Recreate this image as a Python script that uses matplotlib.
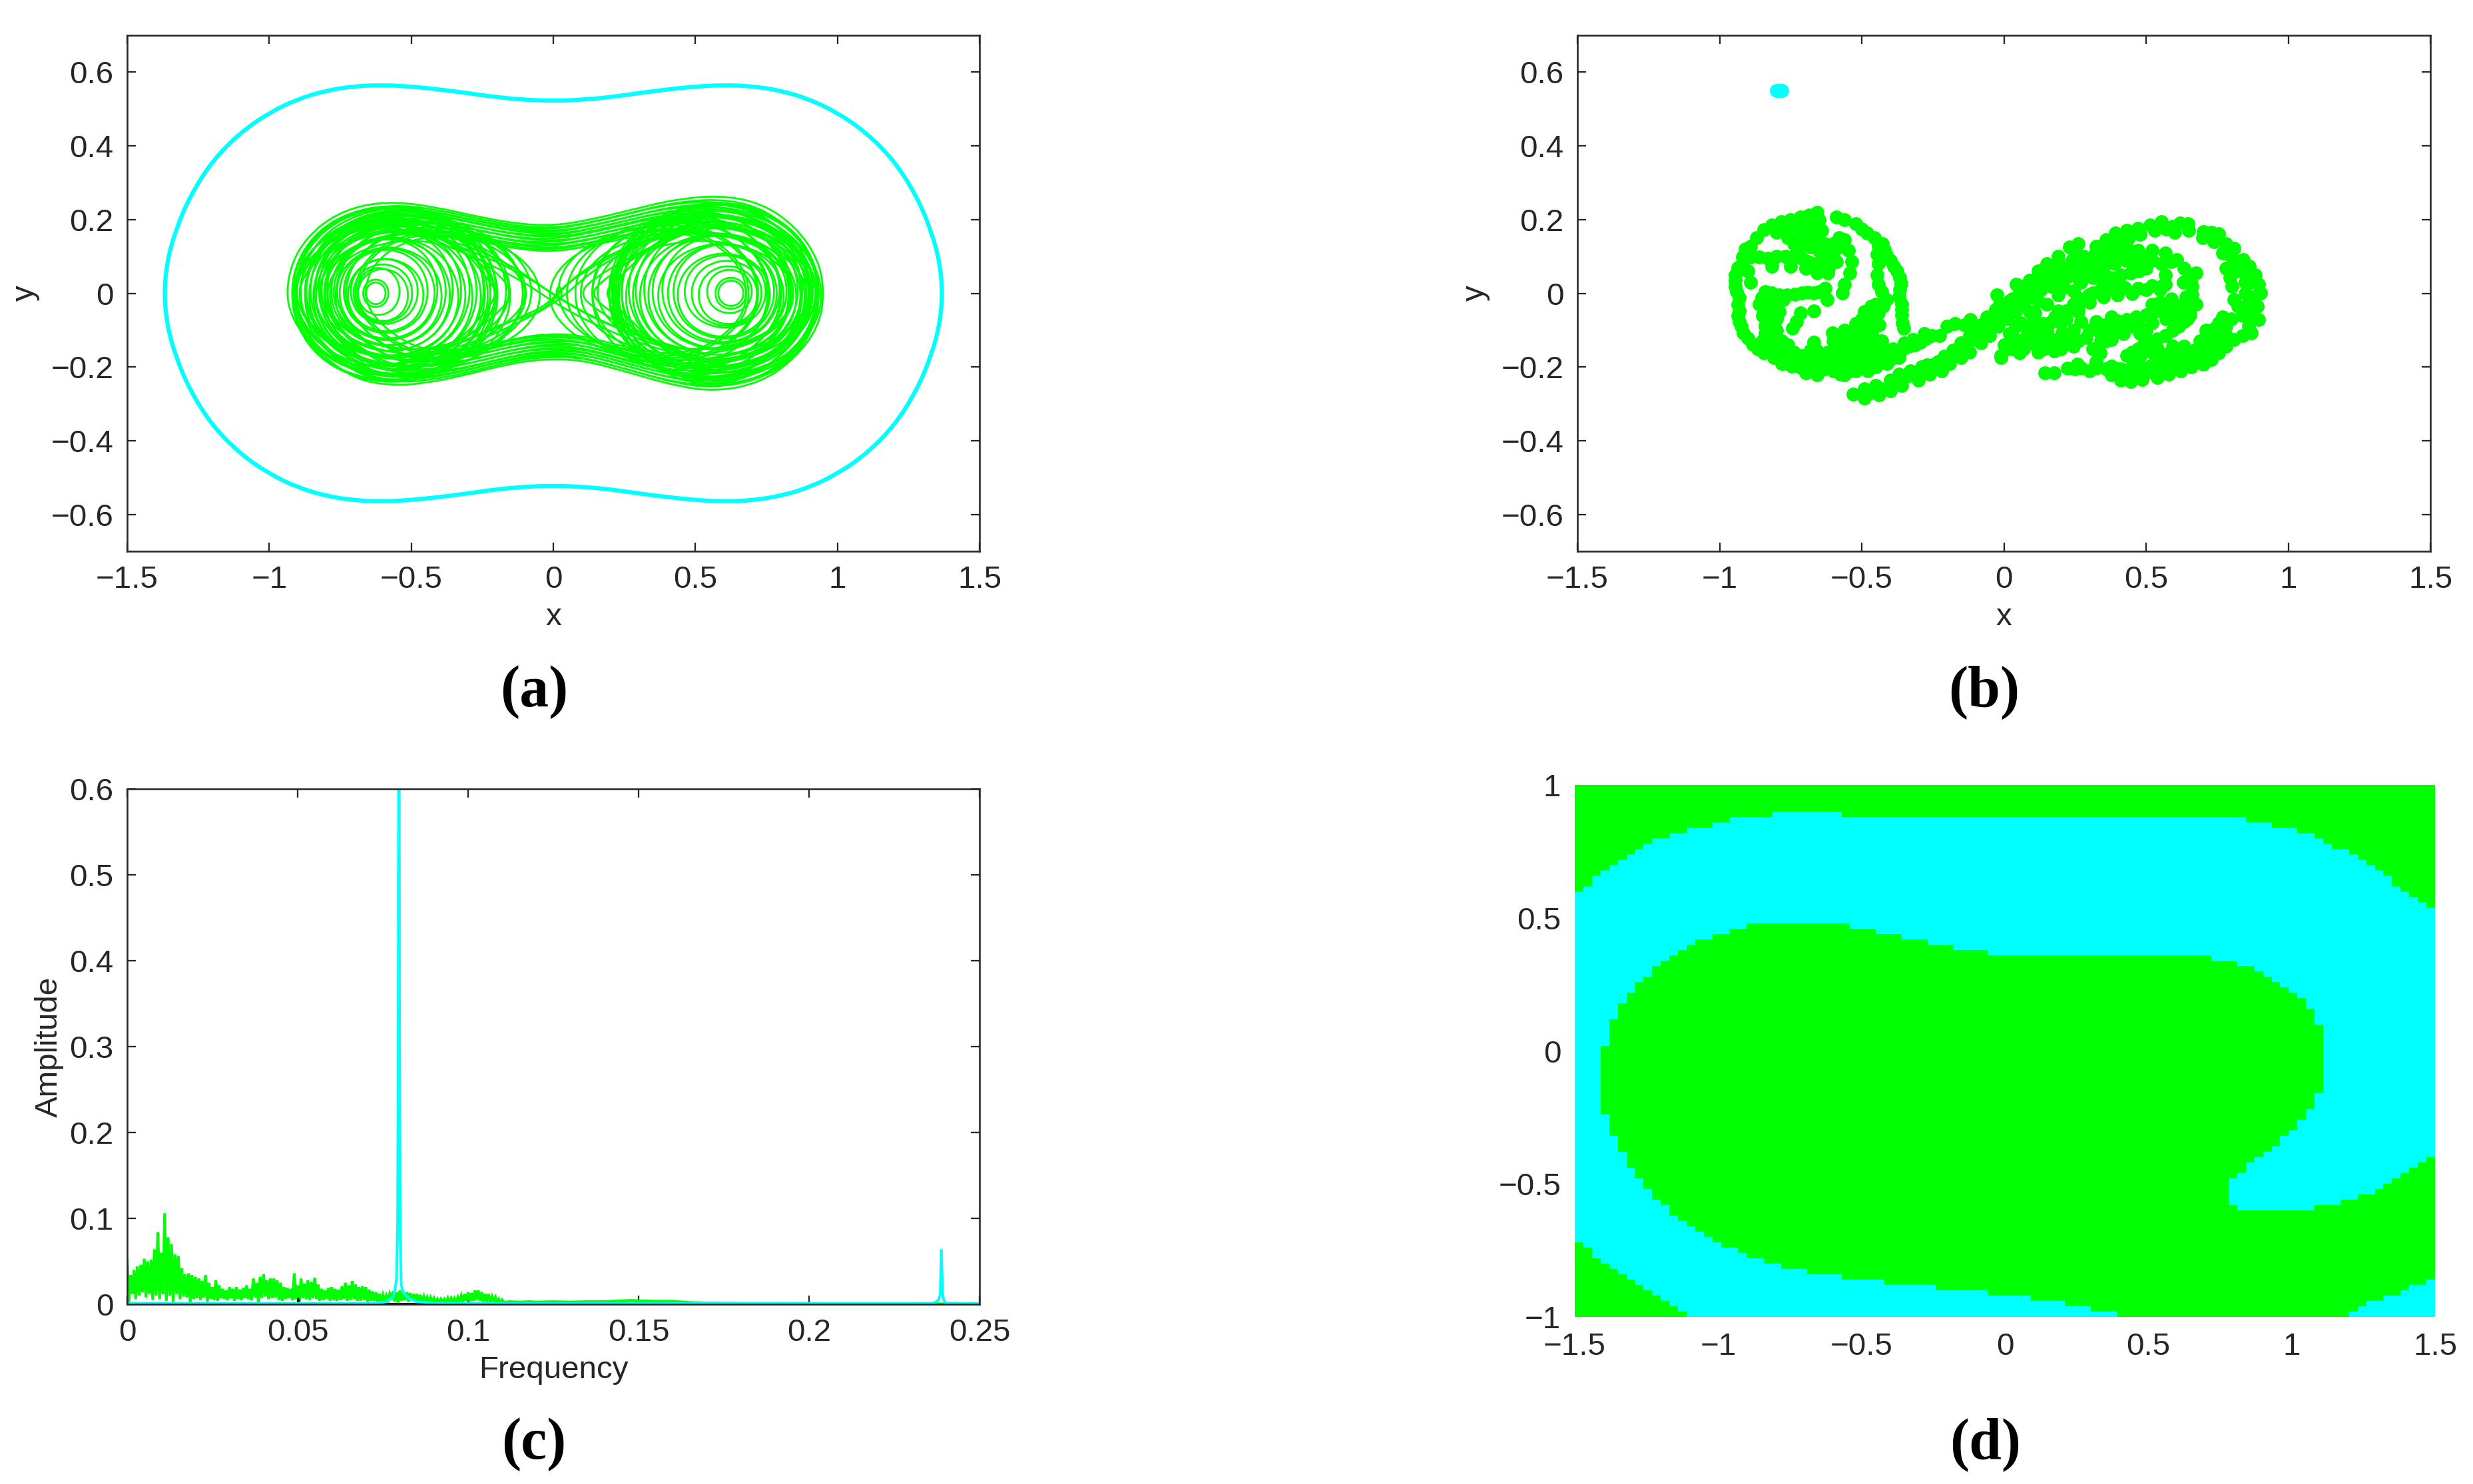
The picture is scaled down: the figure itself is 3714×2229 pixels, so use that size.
import matplotlib
matplotlib.use("Agg")
import matplotlib.pyplot as plt
import numpy as np
from matplotlib.path import Path
from matplotlib.patches import PathPatch
from matplotlib.colors import ListedColormap

plt.rcParams['font.family'] = ['Liberation Sans', 'DejaVu Sans']
W, H = 3714, 2229
GREEN, CYAN, INK = '#00FF00', '#00FFFF', '#262626'

# ---------- panel (a): periodic orbit, upper right quadrant (mirrored on both axes)
cycle_x = [0, .1, .2, .3, .4, .5, .6, .7, .8, .9, 1.0, 1.1, 1.2, 1.28, 1.33, 1.36, 1.37]
cycle_y = [.522, .525, .532, .543, .553, .561, .565, .562, .55, .527, .49, .437, .36, .262, .17, .085, 0]

# ---------- panel (a): chaotic orbit, read as an outer contour with nested copies
orbit_x = [-.941, -.92, -.867, -.786, -.679, -.558, -.423, -.249, -.114, .007, .128, .289, .423, .585, .733, .853,
           .934, .954, .934, .853, .733, .571, .423, .249, .101, -.034, -.168, -.329, -.464, -.558, -.679, -.786, -.867, -.92]
orbit_y = [0, .085, .151, .205, .239, .248, .235, .205, .187, .184, .199, .229, .254, .266, .245, .181,
           .091, 0, -.091, -.175, -.242, -.267, -.25, -.211, -.181, -.178, -.193, -.226, -.245, -.25, -.238, -.187, -.127, -.066]
nest_sx = [1.0, .975, .96, .945, .925, .91, .885, .87, .85, .83, .81, .79, .77, .75, .73, .71]
nest_sy = [1.0, .965, .945, .92, .90, .875, .85, .83, .80, .775, .75, .725, .70, .67, .645, .62]
nest_dx = [0, .005, -.01, .01, -.005, .012, -.012, .008, -.008, .015, -.015, .01, -.01, .005, -.006, .004]

loop_x = [1, .93, .72, .39, 0, -.39, -.72, -.93, -1, -.93, -.72, -.39, 0, .39, .72, .93]
loop_y = [0, .38, .71, .92, 1, .92, .71, .38, 0, -.38, -.71, -.92, -1, -.92, -.71, -.38]
left_rings = [(-.625, 0, .035, .03), (-.625, 0, .045, .038), (-.615, .005, .075, .065), (-.60, -.005, .09, .072), (-.60, 0, .105, .08),
              (-.595, .005, .12, .09), (-.59, -.005, .135, .10), (-.59, .005, .15, .115), (-.585, 0, .17, .125), (-.585, .01, .18, .14),
              (-.58, -.008, .19, .135), (-.58, .005, .205, .15), (-.575, -.005, .215, .155), (-.575, .01, .225, .17), (-.57, -.01, .24, .165),
              (-.57, .008, .25, .18), (-.565, -.005, .26, .175), (-.56, .01, .27, .19), (-.56, -.01, .28, .185), (-.555, .005, .29, .20),
              (-.55, -.008, .30, .195), (-.55, .008, .31, .21), (-.545, -.005, .32, .205), (-.545, .008, .33, .22), (-.54, -.008, .34, .215),
              (-.545, .005, .35, .23), (-.55, -.005, .36, .225), (-.56, .005, .365, .235), (-.57, -.005, .355, .24), (-.58, 0, .345, .24),
              (-.50, 0, .40, .20), (-.49, .005, .42, .19), (-.47, -.005, .43, .18), (-.46, 0, .37, .17), (-.48, .005, .33, .16),
              (-.50, -.005, .30, .15), (-.52, .005, .36, .21), (-.53, -.005, .385, .225), (-.51, 0, .41, .215)]
right_rings = [(.625, 0, .045, .035), (.625, 0, .055, .043), (.62, .005, .08, .06), (.615, -.005, .105, .08), (.61, 0, .125, .09),
               (.605, .005, .145, .10), (.60, -.005, .165, .115), (.60, .005, .18, .13), (.595, 0, .195, .135), (.59, .01, .21, .15),
               (.59, -.008, .225, .145), (.585, .005, .24, .16), (.585, -.005, .255, .165), (.58, .01, .265, .18), (.58, -.01, .28, .175),
               (.575, .008, .29, .19), (.575, -.005, .30, .185), (.57, .01, .31, .20), (.57, -.01, .32, .195), (.565, .005, .33, .21),
               (.565, -.008, .34, .205), (.56, .008, .345, .22), (.56, -.005, .355, .215), (.56, .008, .36, .23), (.56, -.008, .37, .225),
               (.565, .005, .375, .24), (.57, -.005, .37, .235), (.575, .005, .365, .245), (.58, -.005, .36, .25), (.585, 0, .35, .25),
               (.48, 0, .44, .20), (.46, .005, .45, .19), (.44, -.005, .46, .18), (.47, 0, .38, .17), (.50, .005, .35, .16),
               (.52, -.005, .33, .15), (.53, .005, .40, .21), (.54, -.005, .41, .225), (.50, 0, .43, .215)]

strokes = [
    ([-.55, -.3, -.1, .03, .2, .4, .55], [.19, .12, .05, -.02, -.09, -.14, -.17]),
    ([-.5, -.28, -.1, .02, .2, .38, .56], [.17, .1, .03, -.035, -.105, -.155, -.19]),
    ([-.62, -.38, -.16, .02, .18, .34, .5], [.2, .15, .085, -.015, -.08, -.125, -.16]),
    ([-.45, -.25, -.1, -.02, .05, .2, .35, .5], [-.17, -.11, -.06, -.03, .03, .1, .15, .18]),
    ([-.4, -.2, -.03, .06, .22, .38, .52], [-.16, -.085, -.05, .04, .115, .16, .2]),
    ([-.52, -.3, -.12, .02, .15, .3, .46], [-.19, -.14, -.08, -.02, .07, .13, .17]),
    ([-.55, -.35, -.2, -.14, -.2, -.35, -.55], [.2, .14, .06, 0, -.06, -.14, -.19]),
    ([-.55, -.3, -.14, -.085, -.14, -.3, -.55], [.21, .15, .07, 0, -.07, -.15, -.21]),
    ([-.55, -.33, -.24, -.195, -.24, -.33, -.55], [.2, .13, .05, 0, -.05, -.13, -.2]),
    ([.55, .35, .18, .08, .18, .35, .55], [.2, .13, .06, 0, -.06, -.13, -.2]),
    ([.55, .33, .2, .125, .2, .33, .55], [.19, .12, .05, 0, -.05, -.12, -.19]),
    ([.55, .36, .25, .17, .25, .36, .55], [.21, .14, .055, 0, -.055, -.14, -.21]),
]
tiny_cx, tiny_a, tiny_b = .02, .009, .017

# ---------- panel (b): Poincare section, read strand by strand
b_cyan = [(-.80, .55), (-.79, .55), (-.78, .55)]
b_left_outer = [(-.656, -.222), (-.68, -.21), (-.71, -.204), (-.745, -.198), (-.777, -.19), (-.81, -.175), (-.844, -.162), (-.865, -.15), (-.884, -.138), (-.90, -.122), (-.918, -.107), (-.925, -.09), (-.931, -.077), (-.935, -.06), (-.931, -.047), (-.935, -.03), (-.931, -.011), (-.94, .005), (-.945, .019), (-.945, .035), (-.945, .05), (-.935, .07), (-.918, .092), (-.91, .11), (-.891, .128), (-.87, .15), (-.844, .173), (-.815, .185), (-.784, .194), (-.75, .2), (-.716, .207), (-.685, .212), (-.656, .219)]
b_left_arc = [(-.589, .207), (-.56, .2), (-.522, .188), (-.5, .175), (-.481, .164), (-.455, .15), (-.427, .134), (-.42, .118), (-.414, .104), (-.40, .09), (-.387, .074), (-.375, .06), (-.367, .043), (-.362, .027), (-.367, .01), (-.37, -.01), (-.36, -.029), (-.36, -.045), (-.36, -.059), (-.358, -.08), (-.353, -.095)]
b_left_inner = [(-.441, .128), (-.445, .105), (-.441, .08), (-.445, .05), (-.441, .025), (-.43, .005), (-.414, -.017), (-.425, -.035), (-.441, -.053), (-.455, -.068), (-.468, -.083), (-.48, -.098), (-.495, -.114), (-.50, -.135), (-.51, -.15), (-.522, -.162), (-.53, -.185), (-.562, -.21), (-.575, -.22)]
b_left_spiral = [(-.72, .2), (-.715, .17), (-.76, .175), (-.76, .15), (-.74, .135), (-.71, .13), (-.68, .125), (-.65, .115), (-.63, .11), (-.60, .11), (-.58, .125), (-.58, .15), (-.92, .098), (-.89, .098), (-.86, .098), (-.83, .095), (-.80, .1), (-.77, .1), (-.74, .1), (-.71, .095), (-.69, .085), (-.817, .074), (-.75, .074), (-.696, .068), (-.656, .056), (-.616, .068), (-.589, .086), (-.609, .104), (-.562, .146), (-.548, .116), (-.535, .086), (-.542, .056), (-.562, .025), (-.569, .001)]
b_left_band = [(-.851, -.011), (-.817, .001), (-.763, -.005), (-.71, .001), (-.669, .001), (-.629, .013), (-.622, -.017), (-.669, -.047), (-.84, .005), (-.79, -.005), (-.735, -.002), (-.69, .003), (-.65, .005), (-.844, -.029), (-.831, -.053), (-.824, -.083), (-.81, -.114), (-.797, -.138), (-.763, -.156), (-.71, -.168), (-.656, -.174), (-.589, -.18), (-.522, -.183), (-.454, -.186), (-.804, -.029), (-.777, -.017), (-.716, -.053), (-.73, -.077), (-.743, -.095), (-.84, -.07), (-.80, -.07), (-.80, -.10), (-.84, -.11), (-.78, -.13), (-.74, -.16), (-.68, -.155), (-.62, -.16), (-.83, -.145), (-.79, -.17), (-.75, -.18), (-.69, -.19), (-.63, -.19), (-.56, -.17), (-.723, -.198), (-.669, -.132), (-.656, -.156)]
b_left_blob = [(-.602, -.107), (-.562, -.101), (-.522, -.083), (-.589, -.144), (-.582, -.168), (-.495, -.101), (-.481, -.126), (-.468, -.15), (-.468, -.035), (-.454, -.059), (-.53, -.11), (-.50, -.07), (-.545, -.14), (-.51, -.12), (-.50, -.165), (-.47, -.175), (-.44, -.16), (-.43, -.13), (-.46, -.095), (-.44, -.085), (-.414, -.168), (-.374, -.156), (-.333, -.144), (-.293, -.132), (-.253, -.114), (-.226, -.114), (-.40, -.18), (-.39, -.165), (-.355, -.15), (-.313, -.14), (-.273, -.122), (-.562, -.222), (-.522, -.21), (-.468, -.198), (-.696, -.216), (-.602, -.198), (-.54, -.195), (-.50, -.195), (-.44, -.19)]
b_left_fill = [(-.80, .165), (-.76, .19), (-.72, .185), (-.68, .19), (-.65, .2), (-.69, .16), (-.66, .165), (-.64, .17), (-.72, .15), (-.67, .14), (-.63, .135), (-.60, .135), (-.60, .09), (-.64, .09), (-.67, .08), (-.62, .055), (-.90, .06), (-.89, .03), (-.91, .12), (-.86, -.03), (-.85, -.06), (-.84, -.09), (-.82, -.03), (-.82, -.06), (-.79, -.05), (-.83, -.12), (-.80, -.13), (-.85, -.13), (-.76, -.14), (-.78, -.19), (-.75, -.195), (-.72, -.18), (-.69, -.175), (-.66, -.19), (-.63, -.205), (-.60, -.21), (-.57, -.19), (-.54, -.21), (-.51, -.205), (-.48, -.21), (-.45, -.2), (-.64, -.17), (-.60, -.165), (-.56, -.15), (-.53, -.13), (-.57, -.12), (-.60, -.13), (-.49, -.145), (-.46, -.12), (-.45, -.14), (-.52, -.10), (-.47, -.07), (-.49, -.05), (-.45, -.03), (-.43, -.18), (-.42, -.15), (-.39, -.15), (-.35, -.135), (-.32, -.125), (-.28, -.11), (-.37, -.175), (-.41, -.19)]
b_diag_1 = [(-.53, -.274), (-.49, -.26), (-.45, -.25), (-.40, -.235), (-.37, -.22), (-.33, -.21), (-.27, -.195), (-.21, -.17), (-.18, -.155), (-.15, -.135), (-.12, -.115), (-.09, -.095), (-.06, -.065), (-.03, -.045), (0.0, -.03), (.03, -.015), (.055, .005), (.075, .02), (.09, .035), (.12, .06), (.15, .08), (.19, .1), (.23, .125), (.26, .135)]
b_diag_2 = [(-.49, -.285), (-.44, -.275), (-.40, -.265), (-.36, -.25), (-.30, -.235), (-.26, -.22), (-.22, -.21), (-.19, -.19), (-.15, -.175), (-.12, -.16), (-.08, -.135), (-.05, -.115), (-.02, -.09), (.01, -.07), (.04, -.05), (.07, -.03), (.10, -.01), (.13, .01), (.16, .03), (.19, .045), (.23, .065), (.27, .075), (.31, .09), (.35, .1), (.39, .115), (.43, .125), (-.24, -.19), (-.17, -.16), (-.10, -.125), (-.07, -.105), (-.04, -.08), (-.01, -.06), (.02, -.04), (.05, -.02)]
b_diag_3 = [(-.011, -.174), (.01, -.15), (.043, -.126), (.09, -.105), (.137, -.083), (.18, -.065), (.218, -.047), (.26, -.025), (.298, -.005), (.34, .01), (.379, .013), (.425, .015), (.473, .013), (.52, .02), (.567, .025), (.258, -.011), (.312, .001), (.245, -.03), (.285, -.02), (.35, .025), (.40, .03), (.083, -.011), (.03, -.047), (.11, -.053), (.191, -.047), (-.024, -.005), (.043, .025), (.137, .062), (.191, .086), (.245, .116), (.15, -.03), (.12, -.02), (.06, -.08), (.10, -.08)]
b_diag_fill = [(-.47, -.27), (-.43, -.26), (-.38, -.245), (-.34, -.225), (-.31, -.215), (-.29, -.2), (-.25, -.195), (-.23, -.185), (-.20, -.175), (-.16, -.15), (-.13, -.135), (-.10, -.105), (-.08, -.085), (-.05, -.09), (-.03, -.07), (-.015, -.03), (.01, -.045), (.02, -.02), (.045, -.03), (.06, -.01), (.08, 0), (.09, -.05), (.10, .02), (.13, .035), (.16, .055), (.18, .02), (.2, .07), (.24, .09), (.28, .1), (.32, .105)]
b_mid_blob = [(.03, -.114), (.083, -.107), (.151, -.101), (.204, -.107), (.177, -.156), (.245, -.144), (.11, -.138), (.056, -.162), (-.011, -.168), (.312, -.15), (.339, -.162), (.245, -.101), (.271, -.077), (.325, -.077), (.379, -.065), (.433, -.071), (.5, -.059), (.554, -.047), (.608, -.035), (.379, -.101), (.379, -.126), (.419, -.089), (.06, -.135), (.03, -.15), (.09, -.125), (.13, -.12), (.17, -.125), (.21, -.13), (.14, -.15), (.355, -.085), (.40, -.075), (.345, -.11), (.36, -.13), (.465, -.065), (.53, -.05), (.58, -.04), (.55, -.025), (.59, -.015), (.52, -.03)]
b_right_inner = [(.473, .116), (.52, .116), (.567, .11), (.608, .092), (.634, .068), (.675, .056), (.661, .019), (.661, -.005), (.675, -.029), (.655, -.059), (.634, -.077), (.594, -.101), (.567, -.114), (.513, -.132), (.473, -.15), (.433, -.168), (.554, .08), (.567, .05), (.554, .019), (.59, .085), (.66, .04), (.645, -.07), (.615, -.09), (.54, -.123), (.49, -.14), (.45, -.16)]
b_right_arc = [(.325, .128), (.359, .146), (.392, .164), (.433, .17), (.473, .176), (.513, .185), (.554, .194), (.594, .182), (.648, .188), (.702, .167), (.755, .161), (.782, .134), (.809, .122), (.843, .092), (.863, .074), (.883, .05), (.896, .025), (.903, .001), (.89, -.035), (.896, -.071), (.87, -.107), (.809, -.126), (.782, -.144), (.755, -.162), (.702, -.192), (.621, -.21), (.54, -.228), (.487, -.234), (.446, -.24), (.379, -.222), (.325, -.204), (.272, -.204), (.224, -.204), (.177, -.216), (.144, -.216), (.62, .19), (.73, .165), (.84, -.115), (.73, -.18), (.66, -.2), (.58, -.22), (.41, -.235), (.30, -.21), (.25, -.205)]
b_right_arc_2 = [(.36, .12), (.40, .15), (.44, .15), (.48, .16), (.53, .17), (.57, .175), (.60, .165), (.65, .17), (.70, .15), (.74, .14), (.77, .11), (.80, .10), (.83, .07), (.85, .06), (.87, .03), (.88, -.01), (.87, -.04), (.86, -.09)]
b_right_second = [(.782, .068), (.796, .043), (.802, .019), (.809, -.017), (.823, -.035), (.769, -.065), (.742, -.095), (.728, -.12), (.702, -.15), (.634, -.144), (.594, -.144), (.54, -.15), (.487, -.156), (.755, -.08), (.72, -.14), (.76, -.11), (.74, -.15), (.67, -.155)]
b_low_band = [(.379, -.198), (.446, -.204), (.513, -.198), (.581, -.192), (.634, -.198), (.433, -.216), (.487, -.21), (.54, -.174), (.621, -.174), (.675, -.168), (.325, -.186), (.258, -.192), (.41, -.205), (.47, -.19), (.53, -.215), (.60, -.2), (.66, -.18), (.48, -.225), (.42, -.22), (.57, -.18)]
b_upper_mid = [(.245, .056), (.285, .074), (.325, .08), (.366, .092), (.406, .104), (.386, .116), (.44, .119), (.312, .043), (.379, .043), (.446, .056), (.5, .068), (.245, .007), (.191, -.005), (.164, .019), (.218, .043), (.27, .06), (.345, .05), (.41, .05), (.475, .06), (.27, .03), (.21, .015), (-.172, -.083), (-.118, -.071), (-.14, -.085), (-.20, -.09)]
b_right_fill = [(.26, .04), (.29, .05), (.31, .06), (.35, .07), (.39, .08), (.43, .09), (.46, .09), (.5, .095), (.52, .09), (.40, .135), (.35, .11), (.26, -.05), (.30, -.025), (.35, -.01), (.40, -.005), (.45, 0), (.50, .01), (.55, .01), (.16, -.08), (.20, -.08), (.22, -.07), (.12, -.10), (.08, -.09), (.04, -.09), (.0, -.14), (.02, -.11), (.07, -.15), (.12, -.16), (.16, -.14), (.20, -.15), (.23, -.12), (.26, -.13), (.29, -.12), (.30, -.10), (.33, -.10), (.34, -.13), (.39, -.09), (.42, -.11), (.45, -.09), (.47, -.08), (.50, -.10), (.52, -.08), (.48, -.11), (.57, -.07), (.60, -.06), (.62, -.05), (.63, -.03), (.64, -.01), (.63, .03), (.48, -.17), (.52, -.16), (.56, -.165), (.60, -.165), (.64, -.165), (.68, -.155), (.70, -.17), (.66, -.19), (.62, -.195), (.58, -.205), (.54, -.205), (.50, -.215), (.46, -.225), (.44, -.23), (.40, -.205), (.36, -.205), (.32, -.2), (.69, -.13), (.71, -.10), (.74, -.12), (.76, -.135), (.78, -.09), (.80, -.07), (.78, -.115), (.85, .03), (.85, .0), (.86, -.03), (.87, -.07), (.84, -.06), (.82, .06), (.82, .085)]
b_strands = [b_left_outer, b_left_arc, b_left_inner, b_left_spiral, b_left_band, b_left_blob, b_left_fill, b_diag_1, b_diag_2, b_diag_3, b_diag_fill, b_mid_blob, b_right_inner, b_right_arc, b_right_arc_2, b_right_second, b_low_band, b_upper_mid, b_right_fill]

# ---------- panel (c): spectrum
c_peaks = [.052, .034, .040, .044, .046, .053, .050, .052, .064, .084, .060, .106, .078, .070, .058, .056, .042, .035, .036, .034, .032, .030, .027, .034, .025, .020, .028, .022, .018, .016, .020, .018, .020, .017, .019, .022, .018, .030, .025, .032, .035, .028, .030, .030, .028, .025, .020, .019, .018, .036, .022, .030, .024, .028, .026, .031, .023, .018, .016, .019, .020, .018, .017, .021, .025, .022, .027, .023, .020, .021, .020, .017, .015, .014, .012, .011, .010, .012, .015, .014, .016, .013, .014, .013, .012, .012, .011, .009, .008, .008, .007, .006, .006, .006, .007, .007, .007, .008, .010, .012, .014, .013, .016, .016, .014, .012, .012, .009, .008, .006, .005]
c_troughs = [.002, .012, .006, .010, .014, .008, .012, .005, .010, .006, .012, .004, .010, .003, .012, .006, .009, .008, .002, .006, .007, .005, .008, .003, .006, .005, .004, .007, .006, .005, .007, .004, .006, .005, .007, .006, .005, .008, .002, .007, .009, .006, .007, .008, .005, .004, .006, .007, .005, .006, .002, .007, .006, .005, .007, .006, .004, .005, .006, .004, .005, .004, .005, .006, .004, .005, .006, .004, .004, .005, .003, .004, .004, .003, .004, .003, .004, .005, .003, .002, .004, .005, .003, .004, .003, .001, .003, .002, .003, .002, .002, .002, .003, .002, .002, .003, .002, .003, .003, .004, .003, .004, .005, .004, .003, .004, .003, .003, .002, .002, .002]
c_tail_f = [.112, .115, .118, .12, .125, .13, .135, .14, .145, .148, .15, .155, .16, .165, .17, .18, .19, .2, .21, .22, .23, .24, .25]
c_tail_a = [.003, .0025, .003, .0025, .003, .0025, .003, .003, .004, .0045, .004, .0035, .0035, .002, .0015, .001, .001, .0008, .0006, .0006, .0005, .0005, .0004]
c_black_f = [.05, .0502, .0504, .067, .09]
c_black_a = [.0005, .007, .0005, .0005, .0005]
c_cyan_f = [0, .02, .04, .06, .07, .074, .076, .077, .078, .0785, .079, .0793, .0795, .0797, .0799, .0801, .0804, .081, .082, .083, .0848, .09, .10, .15, .2, .23, .236, .237, .238, .2385, .2388, .2392, .2395, .24, .241, .245, .25]
c_cyan_a = [.001, .001, .001, .001, .001, .0015, .003, .005, .009, .016, .03, .08, .3, 1.0, .3, .08, .022, .014, .009, .006, .003, .0015, .001, .001, .001, .001, .0012, .002, .005, .012, .063, .012, .005, .002, .0012, .001, .001]

# ---------- panel (d): basins of attraction, boundary of the cyan region (runs on past the frame)
d_cyan_x = [-1.62, -1.5, -1.377, -1.275, -1.152, -1.008, -.865, -.68, -.557, -.27, .324, .754, .938, 1.102, 1.246, 1.369, 1.5, 1.62, 1.75, 1.62, 1.5, 1.369, 1.246, 1.102, .867, .805, .76, .795, .898, 1.0, 1.082, 1.123, 1.123, 1.082, 1.02, .918, .795, .549, .283, .078, -.066, -.25, -.455, -.619, -.824, -.967, -1.09, -1.193, -1.305, -1.377, -1.408, -1.418, -1.398, -1.346, -1.275, -1.152, -1.029, -.885, -.67, -.373, .016, .262, .436, .6, -.9, -1.07, -1.275, -1.398, -1.5, -1.62, -1.75]
d_cyan_y = [.46, .593, .694, .766, .816, .859, .888, .902, .888, .873, .873, .888, .852, .802, .715, .629, .521, .40, .0, -.28, -.385, -.485, -.55, -.593, -.607, -.586, -.536, -.471, -.392, -.306, -.205, -.075, .011, .14, .212, .291, .341, .37, .36, .346, .37, .406, .456, .485, .485, .456, .406, .342, .226, .097, -.018, -.104, -.234, -.377, -.492, -.629, -.708, -.78, -.838, -.878, -.917, -.96, -1.0, -1.06, -1.12, -1.0, -.895, -.794, -.715, -.6, 0]
d_corner_x = [1.06, 1.164, 1.266, 1.389, 1.5, 1.62, 1.62, 1.06]
d_corner_y = [-1.06, -1.0, -.952, -.902, -.859, -.81, -1.1, -1.1]
d_cells = 100

# ---------- tick labels
xy_ticks = [-1.5, -1, -.5, 0, .5, 1, 1.5]
xy_labels = ['\u22121.5', '\u22121', '\u22120.5', '0', '0.5', '1', '1.5']
y_ticks = [-.6, -.4, -.2, 0, .2, .4, .6]
y_labels = ['\u22120.6', '\u22120.4', '\u22120.2', '0', '0.2', '0.4', '0.6']
c_xticks = [0, .05, .1, .15, .2, .25]
c_xlabels = ['0', '0.05', '0.1', '0.15', '0.2', '0.25']
c_yticks = [0, .1, .2, .3, .4, .5, .6]
c_ylabels = ['0', '0.1', '0.2', '0.3', '0.4', '0.5', '0.6']
d_yticks = [-1, -.5, 0, .5, 1]
d_ylabels = ['\u22121', '\u22120.5', '0', '0.5', '1']
captions = ['(a)', '(b)', '(c)', '(d)']

FS = 11.4
fig = plt.figure(figsize=(W / 300, H / 300), dpi=300, facecolor='white')


def axes_px(l, t, r, b):
    ax = fig.add_axes([l / W, 1 - b / H, (r - l) / W, (b - t) / H])
    for s in ax.spines.values():
        s.set_linewidth(.62)
        s.set_color(INK)
    ax.tick_params(direction='in', length=3.1, width=.55, color=INK, labelcolor=INK,
                   labelsize=FS, top=True, right=True, pad=5)
    return ax


def closed_path(xs, ys):
    n = len(xs)
    v = [((xs[-1] + xs[0]) / 2, (ys[-1] + ys[0]) / 2)]
    c = [Path.MOVETO]
    for i in range(n):
        j = (i + 1) % n
        v += [(xs[i], ys[i]), ((xs[i] + xs[j]) / 2, (ys[i] + ys[j]) / 2)]
        c += [Path.CURVE3, Path.CURVE3]
    return Path(v, c)


def open_path(xs, ys):
    v = [(xs[0], ys[0])]
    c = [Path.MOVETO]
    for i in range(1, len(xs) - 1):
        v += [(xs[i], ys[i]), ((xs[i] + xs[i + 1]) / 2, (ys[i] + ys[i + 1]) / 2)]
        c += [Path.CURVE3, Path.CURVE3]
    v.append((xs[-1], ys[-1]))
    c.append(Path.LINETO)
    return Path(v, c)


def draw_green(ax, path):
    ax.add_patch(PathPatch(path, fc='none', ec=GREEN, lw=.66))


# ---------- (a)
ax = axes_px(191, 53, 1471, 828)
ox, oy = np.array(orbit_x), np.array(orbit_y)
for sx, sy, dx in zip(nest_sx, nest_sy, nest_dx):
    draw_green(ax, closed_path(ox * sx + dx, oy * sy))
lx, ly = np.array(loop_x), np.array(loop_y)
for cx, cy0, a, b in left_rings + right_rings:
    draw_green(ax, closed_path(cx + a * lx, cy0 + b * ly))
draw_green(ax, closed_path(tiny_cx + tiny_a * lx, tiny_b * ly))
for sxs, sys in strokes:
    draw_green(ax, open_path(sxs, sys))
qx, qy = np.array(cycle_x), np.array(cycle_y)
full_x = np.r_[qx, qx[-2::-1], -qx[1:], -qx[-2:0:-1]]
full_y = np.r_[qy, -qy[-2::-1], -qy[1:], qy[-2:0:-1]]
ax.add_patch(PathPatch(closed_path(full_x, full_y), fc='none', ec=CYAN, lw=1.5))
ax.set_xlim(-1.5, 1.5)
ax.set_ylim(-.7, .7)
ax.set_xticks(xy_ticks, xy_labels)
ax.set_yticks(y_ticks, y_labels)
ax.set_xlabel('x', fontsize=FS, color=INK, labelpad=3)
ax.set_ylabel('y', fontsize=FS, color=INK, labelpad=4)

# ---------- (b)
ax = axes_px(2369, 53, 3650, 828)
pts = np.array([p for strand in b_strands for p in strand])
ax.scatter(pts[:, 0], pts[:, 1], s=25, color=GREEN, linewidths=0)
cy = np.array(b_cyan)
ax.scatter(cy[:, 0], cy[:, 1], s=25, color=CYAN, linewidths=0)
ax.set_xlim(-1.5, 1.5)
ax.set_ylim(-.7, .7)
ax.set_xticks(xy_ticks, xy_labels)
ax.set_yticks(y_ticks, y_labels)
ax.set_xlabel('x', fontsize=FS, color=INK, labelpad=3)
ax.set_ylabel('y', fontsize=FS, color=INK, labelpad=4)

# ---------- (c)
ax = axes_px(191, 1185, 1471, 1959)
gf, ga = [], []
for i, (p, t) in enumerate(zip(c_peaks, c_troughs)):
    gf += [i * .001, i * .001 + .0005]
    ga += [p, t]
gf += c_tail_f
ga += c_tail_a
ax.plot(gf, ga, color=GREEN, lw=1.0, solid_joinstyle='miter')
ax.plot(c_black_f, c_black_a, color='black', lw=.6)
ax.plot(c_cyan_f, c_cyan_a, color=CYAN, lw=.95)
ax.set_xlim(0, .25)
ax.set_ylim(0, .6)
ax.set_xticks(c_xticks, c_xlabels)
ax.set_yticks(c_yticks, c_ylabels)
ax.set_xlabel('Frequency', fontsize=FS, color=INK, labelpad=3)
ax.set_ylabel('Amplitude', fontsize=FS, color=INK, labelpad=2)

# ---------- (d)
ax = axes_px(2365, 1179, 3657, 1978)
edges_x = np.linspace(-1.5, 1.5, d_cells + 1)
edges_y = np.linspace(-1, 1, d_cells + 1)
mid_x = (edges_x[:-1] + edges_x[1:]) / 2
mid_y = (edges_y[:-1] + edges_y[1:]) / 2
gx, gy = np.meshgrid(mid_x, mid_y)
grid_pts = np.c_[gx.ravel(), gy.ravel()]
inside = closed_path(d_cyan_x, d_cyan_y).contains_points(grid_pts) | \
    Path(np.c_[d_corner_x, d_corner_y]).contains_points(grid_pts)
ax.pcolormesh(edges_x, edges_y, inside.reshape(gx.shape).astype(int),
              cmap=ListedColormap([GREEN, CYAN]), vmin=0, vmax=1, shading='flat', antialiased=False)
ax.set_xlim(-1.5, 1.5)
ax.set_ylim(-1, 1)
ax.set_xticks(xy_ticks, xy_labels)
ax.set_yticks(d_yticks, d_ylabels)
ax.tick_params(length=0, top=False, right=False)
ax.tick_params(axis='x', pad=5.5)
ax.tick_params(axis='y', pad=5)
for s in ax.spines.values():
    s.set_visible(False)

# ---------- captions
for txt, (cx, cy_) in zip(captions, [(802, 1040), (2980, 1040), (802, 2170), (2982, 2170)]):
    fig.text(cx / W, 1 - cy_ / H, txt, ha='center', va='center', fontsize=21,
             family=['Liberation Serif', 'DejaVu Serif'], weight='bold', color='black')

fig.savefig('out.png', dpi=300)
